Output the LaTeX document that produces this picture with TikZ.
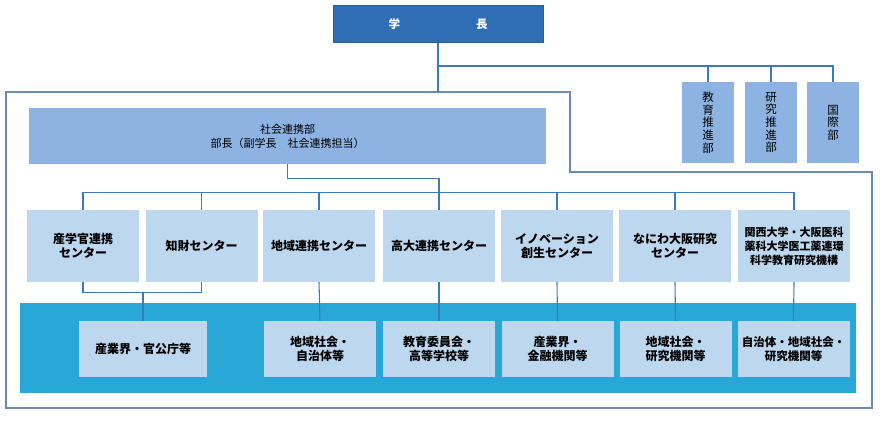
\documentclass[tikz,border=0pt]{standalone}
\usepackage{fontspec}
\setmainfont{Noto Sans CJK JP}
\usepackage{tikz}
\usetikzlibrary{positioning}

\definecolor{chiefblue}{HTML}{2F6DB5}
\definecolor{chiefedge}{HTML}{285E9E}
\definecolor{deptblue}{HTML}{8DB3E2}
\definecolor{unitblue}{HTML}{BDD7EE}
\definecolor{bandblue}{HTML}{29A8D8}
\definecolor{linkblue}{HTML}{3B78C4}
\definecolor{frameblue}{HTML}{6A8BB5}

\begin{document}
\begin{tikzpicture}[x=1pt,y=-1pt,
    chief/.style={fill=chiefblue,draw=chiefedge,line width=1pt,inner sep=0pt,
      minimum width=210pt,minimum height=37pt,text=white,font=\fontsize{11.5}{13}\selectfont\bfseries},
    dept/.style={fill=deptblue,inner sep=0pt,align=center,font=\fontsize{11}{14}\selectfont},
    unit/.style={fill=unitblue,inner sep=0pt,align=center,minimum width=112pt,
      font=\fontsize{12}{14}\selectfont\bfseries},
    link/.style={draw=linkblue,line width=1.1pt},
  ]
      \useasboundingbox (0,0) rectangle (880,420);
      % frame and band
      \draw [frameblue,line width=1.3pt] (6,92) -- (570,92) -- (570,172) -- (872,172) -- (872,408) -- (6,408) -- cycle;
      \fill [bandblue] (20,303) rectangle (856,393);
      \node (gakucho) [chief] at (438,24.5) {学\hspace{76pt}長};
      \node (renkei) [dept,minimum width=517pt,minimum height=56pt] at (287.5,136) {社会連携部\\部長（副学長　社会連携担当）};
      \node (kyoiku) [dept,minimum width=52pt,minimum height=81pt,font=\fontsize{11.5}{12.6}\selectfont] at (708,122.5) {教\\育\\推\\進\\部};
      \node (kenkyu) [dept,minimum width=52pt,minimum height=81pt,font=\fontsize{11.5}{12.6}\selectfont] at (771,122.5) {研\\究\\推\\進\\部};
      \node (kokusai) [dept,minimum width=52pt,minimum height=81pt,font=\fontsize{11.5}{12.6}\selectfont] at (833,122.5) {国\\際\\部};
      % centers
      \node (c1) [unit,minimum height=72pt] at (83,246) {産学官連携\\センター};
      \node (c2) [unit,minimum height=72pt] at (201.5,246) {知財センター};
      \node (c3) [unit,minimum height=72pt] at (319,246) {地域連携センター};
      \node (c4) [unit,minimum height=72pt] at (439,246) {高大連携センター};
      \node (c5) [unit,minimum height=72pt] at (557,246) {イノベーション\\創生センター};
      \node (c6) [unit,minimum height=72pt] at (675,246) {なにわ大阪研究\\センター};
      \node (c7) [unit,minimum height=72pt,font=\fontsize{11}{14}\selectfont\bfseries] at (794,246) {関西大学・大阪医科\\薬科大学医工薬連環\\科学教育研究機構};
      % partners
      \node (b1) [unit,minimum height=56pt,minimum width=128pt] at (143,349) {産業界・官公庁等};
      \node (b2) [unit,minimum height=56pt] at (320,349) {地域社会・\\自治体等};
      \node (b3) [unit,minimum height=56pt] at (439,349) {教育委員会・\\高等学校等};
      \node (b4) [unit,minimum height=56pt] at (557.5,349) {産業界・\\金融機関等};
      \node (b5) [unit,minimum height=56pt] at (675.5,349) {地域社会・\\研究機関等};
      \node (b6) [unit,minimum height=56pt,font=\fontsize{11.5}{14}\selectfont\bfseries] at (793.5,349) {自治体・地域社会・\\研究機関等};
      \coordinate (hub) at (438,66);
      \coordinate (ftop) at (438,92);
      \draw [link] (gakucho.south) -- (ftop);
      \draw [link] (hub) -| (kyoiku.north);
      \draw [link] (hub) -| (kenkyu.north);
      \draw [link] (hub) -| (kokusai.north);
      \draw [link] (renkei.south) -- ++(0,14) -| (c4.north);
      \draw [link] (c1.north) -- ++(0,-17) -| (c7.north);
      \draw [link] (c2.north) -- ++(0,-17);
      \draw [link] (c3.north) -- ++(0,-17);
      \draw [link] (c5.north) -- ++(0,-17);
      \draw [link] (c6.north) -- ++(0,-17);
      \draw [link] (c1.south) -- ++(0,10) -| (c2.south);
      \draw [link] (b1.north) -- ++(0,-29);
      \draw [link] (c3.south) -- (b2.north);
      \draw [link] (c4.south) -- (b3.north);
      \draw [link] (c5.south) -- (b4.north);
      \draw [link] (c6.south) -- (b5.north);
      \draw [link] (c7.south) -- (b6.north);
\end{tikzpicture}
\end{document}
